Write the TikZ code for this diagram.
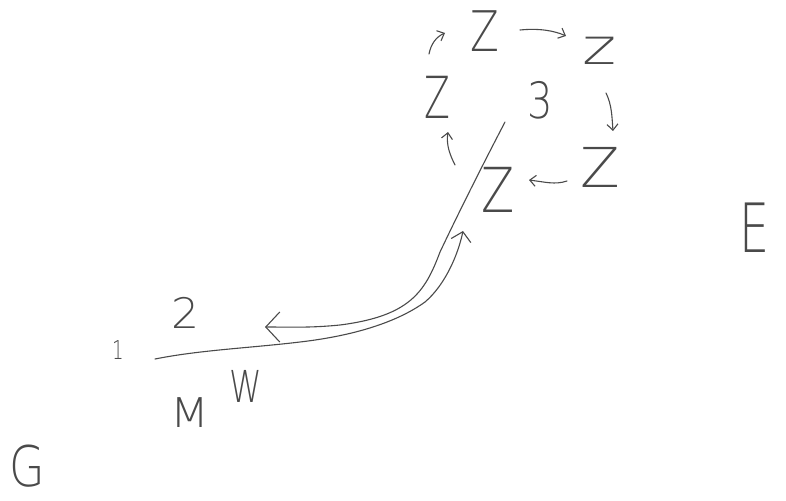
\documentclass[tikz,border=0pt]{standalone}
\usepackage{fontspec}
\newfontfamily\hand{DejaVuSans-ExtraLight.ttf}
\usetikzlibrary{arrows.meta}
\definecolor{ink}{HTML}{4A4A4A}
\tikzset{
  hand/.style={text=ink, inner sep=0pt, outer sep=0pt},
  pen/.style={draw=ink, line width=1.1pt, line cap=round, line join=round},
  tip/.style={-{Straight Barb[length=6pt,width=11pt]}},
  bigtip/.style={-{Straight Barb[length=14pt,width=30pt]}},
}
\newcommand{\fs}[1]{\hand\fontsize{#1}{#1}\selectfont}
\begin{document}
\begin{tikzpicture}[x=1pt,y=-1pt]
\useasboundingbox (0,0) rectangle (786,500);
% labels
\node[hand, font=\fs{56}, xscale=.75] (Ztop) at (485,31) {Z};
\node[hand, font=\fs{50}, xscale=1.3] (zright) at (600,51) {z};
\node[hand, font=\fs{55}, xscale=1.05] (Zright) at (600,167) {Z};
\node[hand, font=\fs{62}, xscale=.78] (Zbot) at (498,190) {Z};
\node[hand, font=\fs{58}, xscale=.65] (Zleft) at (437,97) {Z};
\node[hand, font=\fs{50}, xscale=.8] (three) at (540,100) {3};
\node[hand, font=\fs{26}, xscale=.7] (one) at (118,350) {1};
\node[hand, font=\fs{42}, xscale=1.05] (two) at (186,313) {2};
\node[hand, font=\fs{41}, xscale=1.1] (M) at (190,413) {M};
\node[hand, font=\fs{44}, xscale=.75] (W) at (246,386) {W};
\node[hand, font=\fs{56}, xscale=.82] (G) at (27,466) {G};
\node[hand, font=\fs{68}, xscale=.7] (E) at (755,228) {E};
% small cycle arrows
\coordinate (a1s) at (520,30);  \coordinate (a1e) at (566,36);
\coordinate (a2s) at (606,93);  \coordinate (a2e) at (613,131);
\coordinate (a3s) at (567,181); \coordinate (a3e) at (529,180);
\coordinate (a4s) at (455,165); \coordinate (a4e) at (448,132);
\coordinate (a5s) at (429,54);  \coordinate (a5e) at (445,33);
\draw[pen,tip] (a1s) .. controls (540,28) and (555,31) .. (a1e);
\draw[pen,tip] (a2s) .. controls (612,105) and (612,118) .. (a2e);
\draw[pen,tip] (a3s) .. controls (555,185) and (545,182) .. (a3e);
\draw[pen,tip] (a4s) .. controls (450,155) and (446,145) .. (a4e);
\draw[pen,tip] (a5s) .. controls (431,44) and (436,37) .. (a5e);
% main double line
\coordinate (pA0) at (505,122);
\coordinate (pA1) at (265,327);
\coordinate (pB0) at (155,359);
\coordinate (pB1) at (463,231);
\draw[pen,bigtip] (pA0) .. controls (480,170) and (460,210) .. (440,252)
   .. controls (425,292) and (410,316) .. (340,325)
   .. controls (310,328) and (290,327) .. (pA1);
\draw[pen,-{Straight Barb[length=9pt,width=20pt]}] (pB0) .. controls (200,350) and (250,348) .. (300,342)
   .. controls (360,335) and (400,320) .. (425,302)
   .. controls (445,285) and (458,255) .. (pB1);
\end{tikzpicture}
\end{document}
